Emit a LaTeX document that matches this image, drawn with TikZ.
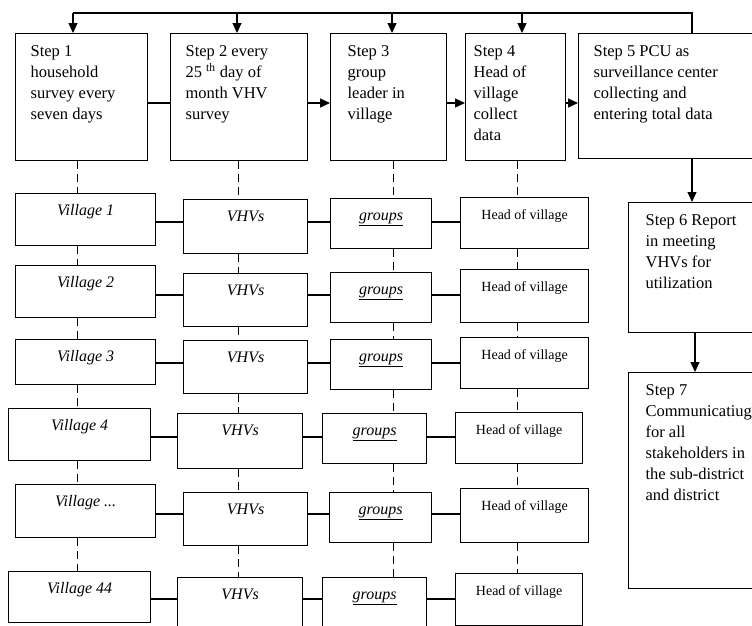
\documentclass[tikz,border=0pt]{standalone}
\usepackage{fontspec}
\setmainfont{Liberation Serif}
\usetikzlibrary{arrows.meta}
\newcommand{\steptext}[3]{\parbox[c][#2][t]{#1}{\raggedright #3}}
\begin{document}
\begin{tikzpicture}[x=1pt, y=-1pt, line width=1.2pt]
\tikzset{stepbox/.style={draw, anchor=north west, inner xsep=15pt, inner ysep=12pt, font=\fontsize{16.5}{21}\selectfont},
  cell/.style 2 args={draw, anchor=north west, inner sep=0pt, minimum width=#1, text height=22pt, text depth=#2},
  vcell/.style 2 args={cell={#1}{#2}, font=\fontsize{16}{18}\selectfont\itshape},
  hcell/.style 2 args={cell={#1}{#2}, font=\fontsize{14}{17}\selectfont},
  arr/.style={-{Triangle[length=10pt,width=9pt]}},
  link/.style={line width=1pt, dash pattern=on 8pt off 5pt}}
\useasboundingbox (0,0) rectangle (752,625);
\clip (0,0) rectangle (752,625);
\fill[white] (0,0) rectangle (752,625);
% steps
\node[stepbox] (s1) at (15,33) {\steptext{102pt}{103pt}{Step 1\\household\\survey every\\seven days}};
\node[stepbox] (s2) at (170,33) {\steptext{107pt}{103pt}{Step 2 every\\25 \textsuperscript{th} day of\\month VHV\\survey}};
\node[stepbox, inner xsep=17pt] (s3) at (330,33) {\steptext{82pt}{103pt}{Step 3\\group\\leader in\\village}};
\node[stepbox, inner xsep=8pt] (s4) at (465,33) {\steptext{84pt}{103pt}{Step 4\\Head of\\village\\collect\\data}};
\node[stepbox] (s5) at (578,33) {\steptext{170pt}{101pt}{Step 5 PCU as\\surveillance center\\collecting and\\entering total data}};
\node[stepbox, inner xsep=17pt] (s6) at (628,202) {\steptext{116pt}{106pt}{Step 6 Report\\in meeting\\VHVs for\\utilization}};
\node[stepbox, inner xsep=17pt] (s7) at (628,372) {\steptext{116pt}{192pt}{Step 7\\Communicatiug\\for all\\stakeholders in\\the sub-district\\and district}};
% villages
\node[vcell={140pt}{30pt}] (v1) at (15,193) {Village 1};
\node[vcell={140pt}{30pt}] (v2) at (15,265) {Village 2};
\node[vcell={140pt}{23pt}] (v3) at (15,339) {Village 3};
\node[vcell={142pt}{30pt}] (v4) at (8,408) {Village 4};
\node[vcell={140pt}{31pt}] (v5) at (15,484) {Village ...};
\node[vcell={142pt}{29pt}] (v6) at (8,571) {Village 44};
% VHVs
\node[vcell={124pt}{32pt}] (h1) at (183,199) {VHVs};
\node[vcell={124pt}{31pt}] (h2) at (183,273) {VHVs};
\node[vcell={124pt}{31pt}] (h3) at (183,340) {VHVs};
\node[vcell={125pt}{33pt}] (h4) at (177,413) {VHVs};
\node[vcell={124pt}{31pt}] (h5) at (183,492) {VHVs};
\node[vcell={125pt}{28pt}] (h6) at (177,577) {VHVs};
% groups
\node[vcell={101pt}{28pt}] (g1) at (330,198) {\underline{groups}};
\node[vcell={101pt}{28pt}] (g2) at (330,272) {\underline{groups}};
\node[vcell={101pt}{28pt}] (g3) at (330,339) {\underline{groups}};
\node[vcell={104pt}{28pt}] (g4) at (322,413) {\underline{groups}};
\node[vcell={102pt}{28pt}] (g5) at (329,492) {\underline{groups}};
\node[vcell={104pt}{28pt}] (g6) at (322,577) {\underline{groups}};
% heads of village
\node[hcell={128pt}{29pt}] (k1) at (460,197) {Head of village};
\node[hcell={128pt}{31pt}] (k2) at (460,269) {Head of village};
\node[hcell={128pt}{29pt}] (k3) at (460,337) {Head of village};
\node[hcell={127pt}{29pt}] (k4) at (455,412) {Head of village};
\node[hcell={128pt}{32pt}] (k5) at (460,488) {Head of village};
\node[hcell={127pt}{30pt}] (k6) at (455,573) {Head of village};
% feedback loop
\coordinate (loopR) at (692,13);
\coordinate (a1) at (73,13); \coordinate (a2) at (237,13); \coordinate (a3) at (392,13); \coordinate (a4) at (522,13);
\draw (s5.north -| loopR) -- (loopR) -- (a1);
\foreach \i in {1,...,4} \draw[arr] (a\i) -- (a\i |- s\i.north);
% step flow
\coordinate (srow) at (0,103);
\draw (s1.east |- srow) -- (s2.west |- srow);
\draw[arr] (s2.east |- srow) -- (s3.west |- srow);
\draw[arr] (s3.east |- srow) -- (s4.west |- srow);
\draw[arr] (s4.east |- srow) -- (s5.west |- srow);
\draw[arr] (s5.south -| loopR) -- (s6.north -| loopR);
\coordinate (down7) at (695,0);
\draw[arr] (s6.south -| down7) -- (s7.north -| down7);
% columns
\coordinate (c1) at (77,0); \coordinate (c2) at (238,0); \coordinate (c3) at (393,0); \coordinate (c4) at (517,0);
\foreach \i/\p in {1/v,2/h,3/g,4/k} {
  \draw[link] (s\i.south -| c\i) -- (\p1.north -| c\i);
  \foreach \r in {1,...,5} {
    \pgfmathtruncatemacro{\n}{\r+1}
    \draw[link] (\p\r.south -| c\i) -- (\p\n.north -| c\i);
  }
}
% rows
\foreach \r/\y in {1/222,2/295,3/363,4/437,5/514,6/599} {
  \coordinate (r\r) at (0,\y);
  \draw (v\r.east |- r\r) -- (h\r.west |- r\r);
  \draw (h\r.east |- r\r) -- (g\r.west |- r\r);
  \draw (g\r.east |- r\r) -- (k\r.west |- r\r);
}
\end{tikzpicture}
\end{document}
